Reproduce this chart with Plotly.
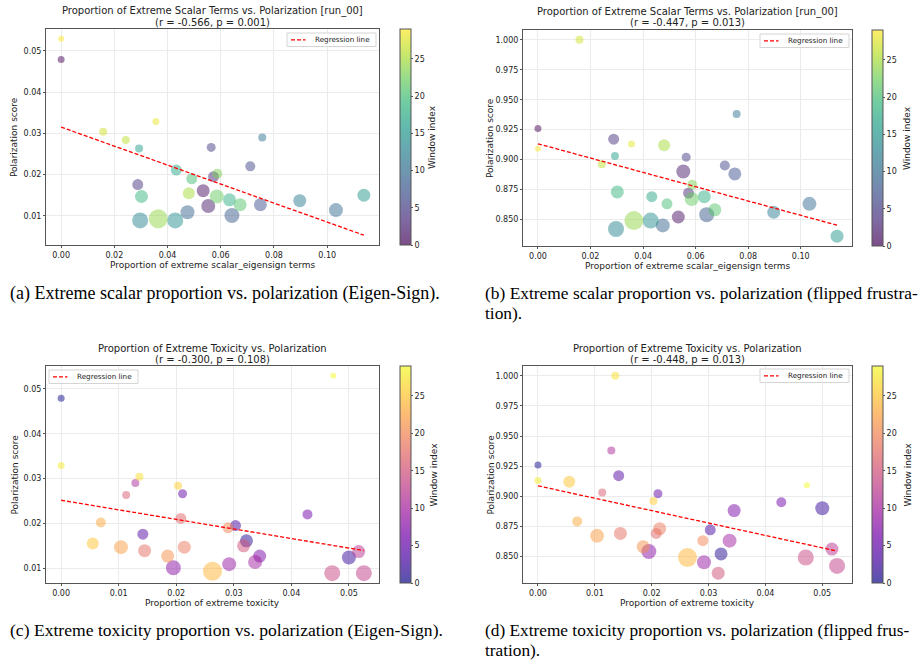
import numpy as np
import plotly.graph_objects as go
import plotly.colors as pc

# ---------------- data (one entry per window, index 0..29) ----------------
window_index = list(range(30))
scalar_prop = [0.0, 0.0534, 0.0553, 0.0573, 0.0288, 0.0564, 0.0711, 0.0749, 0.0642, 0.0475,
               0.1033, 0.0756, 0.0897, 0.0297, 0.0429, 0.1138, 0.0293, 0.0433, 0.0633, 0.0302,
               0.0491, 0.0673, 0.0585, 0.0587, 0.0365, 0.0480, 0.0243, 0.0158, 0.0356, 0.0]
toxicity_prop = [0.0, 0.0322, 0.0500, 0.0303, 0.0142, 0.0211, 0.0428, 0.0345, 0.0195, 0.0292,
                 0.0337, 0.0129, 0.0517, 0.0526, 0.0471, 0.0317, 0.0113, 0.0208, 0.0145, 0.0214,
                 0.0290, 0.0185, 0.0104, 0.0069, 0.0263, 0.0055, 0.0203, 0.0136, 0.0, 0.0473]
pol_eigen = [0.0479, 0.0161, 0.0124, 0.0195, 0.0176, 0.0266, 0.0220, 0.0127, 0.0101, 0.0109,
             0.0114, 0.0290, 0.0137, 0.0089, 0.0089, 0.0150, 0.0263, 0.0211, 0.0139, 0.0147,
             0.0190, 0.0127, 0.0147, 0.0202, 0.0093, 0.0155, 0.0284, 0.0304, 0.0329, 0.0529]
pol_flipped = [0.926, 0.852, 0.890, 0.872, 0.917, 0.902, 0.895, 0.888, 0.854, 0.845,
               0.863, 0.938, 0.856, 0.842, 0.849, 0.836, 0.903, 0.869, 0.869, 0.873,
               0.863, 0.858, 0.867, 0.879, 0.849, 0.912, 0.896, 1.000, 0.913, 0.909]
# relative window volume (drives marker area)
window_volume = [49, 169, 196, 121, 121, 81, 100, 169, 225, 196,
                 196, 64, 169, 256, 256, 169, 64, 121, 169, 169,
                 121, 169, 196, 100, 361, 144, 64, 64, 49, 36]

panels = [
    dict(x=scalar_prop, y=pol_eigen, cmap="Viridis",
         title=["Proportion of Extreme Scalar Terms vs. Polarization [run_00]", "(r = -0.566, p = 0.001)"],
         xlabel="Proportion of extreme scalar_eigensign terms", xd=0.02, yd=0.01, yf=".2f",
         box=(46, 379, 29, 245), cbx=400, legend=(287, 33), ylab_x=14, cbt_x=432),
    dict(x=scalar_prop, y=pol_flipped, cmap="Viridis",
         title=["Proportion of Extreme Scalar Terms vs. Polarization [run_00]", "(r = -0.447, p = 0.013)"],
         xlabel="Proportion of extreme scalar_eigensign terms", xd=0.02, yd=0.025, yf=".3f",
         box=(523, 852, 30, 246), cbx=872, legend=(760, 34), ylab_x=490, cbt_x=907),
    dict(x=toxicity_prop, y=pol_eigen, cmap="Plasma",
         title=["Proportion of Extreme Toxicity vs. Polarization", "(r = -0.300, p = 0.108)"],
         xlabel="Proportion of extreme toxicity", xd=0.01, yd=0.01, yf=".2f",
         box=(46, 379, 366, 583), cbx=400, legend=(49, 370), ylab_x=14, cbt_x=433),
    dict(x=toxicity_prop, y=pol_flipped, cmap="Plasma",
         title=["Proportion of Extreme Toxicity vs. Polarization", "(r = -0.448, p = 0.013)"],
         xlabel="Proportion of extreme toxicity", xd=0.01, yd=0.025, yf=".3f",
         box=(523, 852, 366, 583), cbx=872, legend=(760, 369), ylab_x=490, cbt_x=907),
]

captions = [
    (8, 293, 18, "(a) Extreme scalar proportion vs. polarization (Eigen-Sign)."),
    (483, 293, 17.4, "(b) Extreme scalar proportion vs. polarization (flipped frustra-"),
    (483, 313, 17.4, "tion)."),
    (8, 630, 17.6, "(c) Extreme toxicity proportion vs. polarization (Eigen-Sign)."),
    (483, 630, 17.3, "(d) Extreme toxicity proportion vs. polarization (flipped frus-"),
    (483, 650, 17.3, "tration)."),
]

W, H = 923, 666
FONT = "DejaVu Sans"
ALPHA = 0.7
TXT = "#222"


def px_x(p):
    return p / W


def px_y(p):
    return 1 - p / H


def alpha_scale(name):
    cols = getattr(pc.sequential, name)
    out = []
    n = len(cols)
    for i, c in enumerate(cols):
        if c.startswith("#"):
            r, g, b = pc.hex_to_rgb(c)
        else:
            r, g, b = pc.unlabel_rgb(c)
        out.append([i / (n - 1), f"rgba({int(r)},{int(g)},{int(b)},{ALPHA})"])
    return out


def ann(x, y, text, size, xanchor="center", angle=0, family=FONT, color=TXT):
    return dict(x=px_x(x), y=px_y(y), text=text, showarrow=False, textangle=angle,
                xref="paper", yref="paper", xanchor=xanchor, yanchor="middle",
                font=dict(family=family, size=size, color=color))


fig = go.Figure()
annotations = []
shapes = []
layout = {}
sizes = [np.sqrt(v) for v in window_volume]

for i, p in enumerate(panels):
    k = i + 1
    xs = "" if k == 1 else str(k)
    x = np.array(p["x"])
    y = np.array(p["y"])
    l, r, t, b = p["box"]
    slope, icpt = np.polyfit(x, y, 1)
    lx = np.array([x.min(), x.max()])
    ly = slope * lx + icpt

    fig.add_trace(go.Scatter(
        x=x, y=y, mode="markers", xaxis="x" + xs, yaxis="y" + xs, showlegend=False,
        marker=dict(size=sizes, color=window_index, colorscale=alpha_scale(p["cmap"]),
                    cmin=0, cmax=29, line=dict(width=0),
                    colorbar=dict(x=px_x(p["cbx"]), xanchor="left", xpad=0, ypad=0,
                                  y=px_y((t + b) / 2), yanchor="middle",
                                  len=b - t, lenmode="pixels", thickness=11, thicknessmode="pixels",
                                  outlinewidth=1, outlinecolor="#555",
                                  tickvals=[0, 5, 10, 15, 20, 25], ticks="outside", ticklen=2,
                                  tickcolor="#555", tickfont=dict(family=FONT, size=8, color=TXT),
                                  title=dict(text="", side="right"))),
        hoverinfo="skip"))
    fig.add_trace(go.Scatter(
        x=lx, y=ly, mode="lines", name="Regression line", xaxis="x" + xs, yaxis="y" + xs,
        line=dict(color="red", width=1.3, dash="4px,2px"), showlegend=False, hoverinfo="skip"))

    # axis ranges like matplotlib (5% margins on data incl. regression line)
    allx = np.concatenate([x, lx])
    ally = np.concatenate([y, ly])
    dx = allx.max() - allx.min()
    dy = ally.max() - ally.min()
    xr = [allx.min() - 0.05 * dx, allx.max() + 0.05 * dx]
    yr = [ally.min() - 0.05 * dy, ally.max() + 0.05 * dy]

    axcommon = dict(showline=True, mirror=True, linecolor="#555", linewidth=1,
                    showgrid=True, gridcolor="#ebebeb", gridwidth=1, zeroline=False,
                    ticks="outside", ticklen=2, tickcolor="#555",
                    tickfont=dict(family=FONT, size=8, color=TXT))
    layout["xaxis" + xs] = dict(domain=[px_x(l), px_x(r)], anchor="y" + xs, range=xr,
                                tick0=0, dtick=p["xd"], tickformat=".2f", **axcommon)
    layout["yaxis" + xs] = dict(domain=[px_y(b), px_y(t)], anchor="x" + xs, range=yr,
                                tick0=0, dtick=p["yd"], tickformat=p["yf"], **axcommon)

    # legend box (drawn manually to match compact matplotlib legend)
    lgx, lgy = p["legend"]
    shapes.append(dict(type="rect", xref="paper", yref="paper",
                       x0=px_x(lgx), x1=px_x(lgx + 89), y0=px_y(lgy), y1=px_y(lgy + 13.5),
                       line=dict(color="#d5d5d5", width=1), fillcolor="rgba(255,255,255,0.8)",
                       layer="above"))
    shapes.append(dict(type="line", xref="paper", yref="paper",
                       x0=px_x(lgx + 4), x1=px_x(lgx + 18.5), y0=px_y(lgy + 6.8), y1=px_y(lgy + 6.8),
                       line=dict(color="red", width=1.3, dash="4px,2px"), layer="above"))
    annotations.append(ann(lgx + 25.5, lgy + 6.8, "Regression line", 7.2, xanchor="left"))

    cx = (l + r) / 2
    annotations.append(ann(cx, t - 18, p["title"][0], 10))
    annotations.append(ann(cx, t - 7, p["title"][1], 10))
    annotations.append(ann(cx, b + 20, p["xlabel"], 9))
    annotations.append(ann(p["ylab_x"], (t + b) / 2, "Polarization score", 9, angle=-90))
    annotations.append(ann(p["cbt_x"], (t + b) / 2, "Window index", 9, angle=-90))

for cxp, cyp, fs, txt in captions:
    annotations.append(ann(cxp, cyp, txt, fs, xanchor="left", family="Liberation Serif", color="black"))

fig.update_layout(width=W, height=H, margin=dict(l=0, r=0, t=0, b=0),
                  paper_bgcolor="white", plot_bgcolor="white", showlegend=False,
                  annotations=annotations, shapes=shapes, **layout)

fig.write_html("out.html")
